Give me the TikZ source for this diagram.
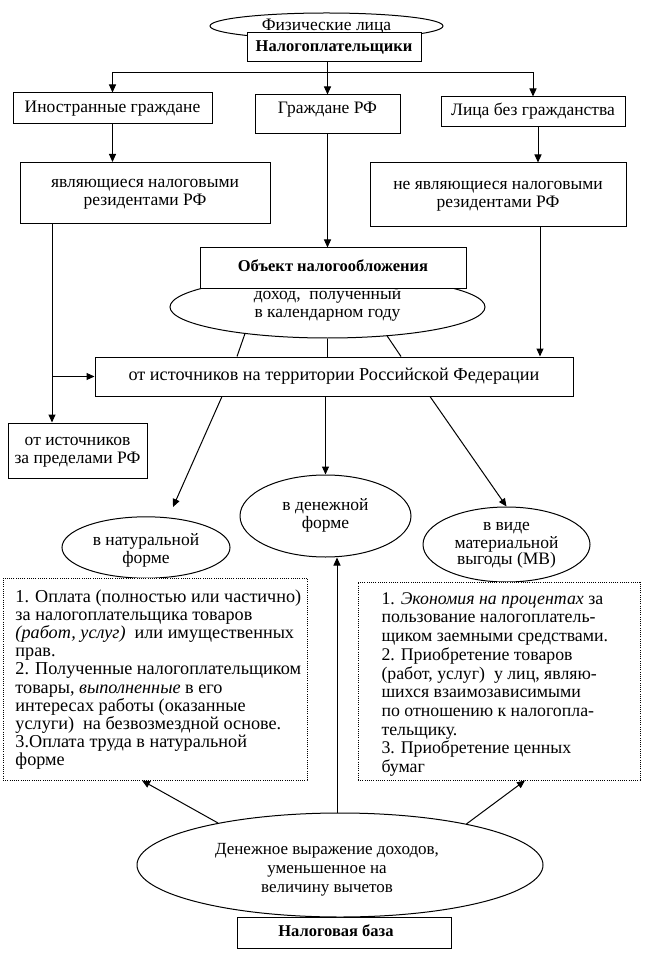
\documentclass[tikz,border=0pt]{standalone}
\usepackage{fontspec}
\setmainfont{Liberation Serif}
\usetikzlibrary{arrows.meta,shapes.geometric}
\begin{document}
\begin{tikzpicture}[x=1pt,y=-1pt, line width=1pt,
  box/.style={draw, rectangle, inner sep=0pt, fill=white, align=center},
  oval/.style={draw, ellipse, inner sep=0pt, fill=white, align=center},
  dotbox/.style={draw, rectangle, inner sep=0pt, fill=white, dash pattern=on 1pt off 1.2pt},
  arr/.style={-{Triangle[length=8pt,width=7pt]}},
  txt/.style={font=\fontsize{17.5}{18}\selectfont},
  btxt/.style={font=\fontsize{16.5}{18}\selectfont\bfseries},
  plain/.style={inner sep=0pt, align=center},
  para/.style={anchor=north west, inner sep=0pt, align=left},
]
\useasboundingbox (0,0) rectangle (646,973);

% top
\node[oval, minimum width=233pt, minimum height=26pt, txt] (fiz) at (326.5,26) {Физические лица};
\node[box, minimum width=174pt, minimum height=29pt, btxt] (nalog) at (334,47.5) {\strut Налогоплательщики};

% row 1
\node[box, minimum width=199pt, minimum height=31pt, txt] (inos) at (112.5,108.5) {\strut Иностранные граждане};
\node[box, minimum width=145pt, text height=19pt, text depth=20pt, anchor=base, txt] (gr) at (327.5,114) {Граждане РФ};
\node[box, minimum width=184pt, minimum height=30pt, txt] (lica) at (533,112) {\strut Лица без гражданства};

% row 2
\node[box, minimum width=250pt, minimum height=61pt, txt] (rez) at (145,193) {\strut являющиеся налоговыми\\резидентами РФ\strut};
\node[box, minimum width=256pt, minimum height=64pt, txt] (nerez) at (498,195) {\strut не являющиеся налоговыми\\резидентами РФ\strut};

% object
\node[oval, minimum width=315pt, minimum height=62pt, txt] (dohod) at (327.5,307) {\strut доход,\ \ полученный\\в календарном году\rule[-9.4pt]{0pt}{9.4pt}};
\node[box, minimum width=266pt, minimum height=40pt, btxt] (obj) at (333,268) {\strut Объект налогообложения};

\node[box, minimum width=478pt, minimum height=39pt, font=\fontsize{18.2}{18}\selectfont] (big) at (334,376.5) {\strut от источников на территории Российской Федерации};
\node[box, minimum width=139pt, minimum height=55pt, txt] (otza) at (77.5,450.5) {\strut от источников\\за пределами РФ\strut};

% forms
\node[oval, minimum width=168pt, minimum height=61pt, txt] (nat) at (146,547.5) {\rule{0pt}{20pt}в натуральной\\форме\strut};
\node[oval, minimum width=171pt, minimum height=82pt, txt] (den) at (325.5,516) {\strut в денежной\\форме\strut};
\node[oval, minimum width=167pt, minimum height=75pt, font=\fontsize{17.5}{16}\selectfont] (mv) at (506.5,544.5) {\strut в виде\\материальной\\выгоды (МВ)\strut};

% dotted boxes
\node[dotbox, minimum width=304pt, minimum height=202pt] (lbox) at (155,679) {};
\node[dotbox, minimum width=282pt, minimum height=198pt] (rbox) at (499,681) {};
\node[para, font=\fontsize{18.2}{18.2}\selectfont] (ltext) at (15,589) {1. Оплата (полностью или частично)\\за налогоплательщика товаров\\\textit{(работ, услуг)}\ \ или имущественных\\прав.\\2. Полученные налогоплательщиком\\товары, \textit{выполненные} в его\\интересах работы (оказанные\\услуги)\ \ на безвозмездной основе.\\3.Оплата труда в натуральной\\форме};
\node[para, font=\fontsize{17.8}{18.7}\selectfont] (rtext) at (381,592) {1. \textit{Экономия на процентах} за\\пользование налогоплатель-\\щиком заемными средствами.\\2. Приобретение товаров\\(работ, услуг)\ \ у лиц, являю-\\шихся взаимозависимыми\\по отношению к налогопла-\\тельщику.\\3. Приобретение ценных\\бумаг};

% bottom
\node[draw, rectangle, fill=white, minimum width=214pt, minimum height=31pt] (baza) at (344,932.5) {};
\node[plain, font=\fontsize{16.5}{18}\selectfont\bfseries] (bazatext) at (336,932.5) {\strut Налоговая база};
\node[oval, minimum width=406pt, minimum height=104pt] (vyr) at (340,865) {};
\node[plain, font=\fontsize{17}{19}\selectfont] (vyrtext) at (327,870) {\strut Денежное выражение доходов,\\уменьшенное на\\величину вычетов\strut};

% helper coordinates
\coordinate (hb) at (0,73);
\coordinate (lv) at (52,0);
\coordinate (rv) at (540,0);
\coordinate (bl) at (237,0);
\coordinate (bm) at (401,0);
\coordinate (sn) at (222,0);
\coordinate (tn) at (173,507);
\coordinate (sm) at (430,0);
\coordinate (vx) at (337,0);
\coordinate (tl) at (142,0);
\coordinate (tr) at (525,0);

% connectors
\draw[arr] (nalog.south -| gr.north) -- (gr.north);
\draw[arr] (hb -| gr.north) -| (inos.north);
\draw[arr] (hb -| gr.north) -| (lica.north);
\draw[arr] (inos.south) -- (inos.south |- rez.north);
\draw[arr] ([xshift=5pt]lica.south) -- ([xshift=5pt]lica.south |- nerez.north);
\draw[arr] (gr.south) -- (gr.south |- obj.north);
\draw[arr] (rez.south -| lv) -- (otza.north -| lv);
\draw[arr] (big.west -| lv) -- (big.west);
\draw[arr] (nerez.south -| rv) -- (big.north -| rv);
\draw (dohod.south) -- (dohod.south |- big.north);
\draw (dohod.198.6) -- (big.north -| bl);
\draw (dohod.334.7) -- (big.north -| bm);
\draw[arr] (big.south -| sn) -- (tn);
\draw[arr] (big.south -| den.north) -- (den.north);
\draw[arr] (big.south -| sm) -- (mv.north);
\draw[arr] (vyr.north -| vx) -- (den.south -| vx);
\draw[arr] (vyr.161.6) -- (lbox.south -| tl);
\draw[arr] (vyr.18.4) -- (rbox.south -| tr);
\end{tikzpicture}
\end{document}
